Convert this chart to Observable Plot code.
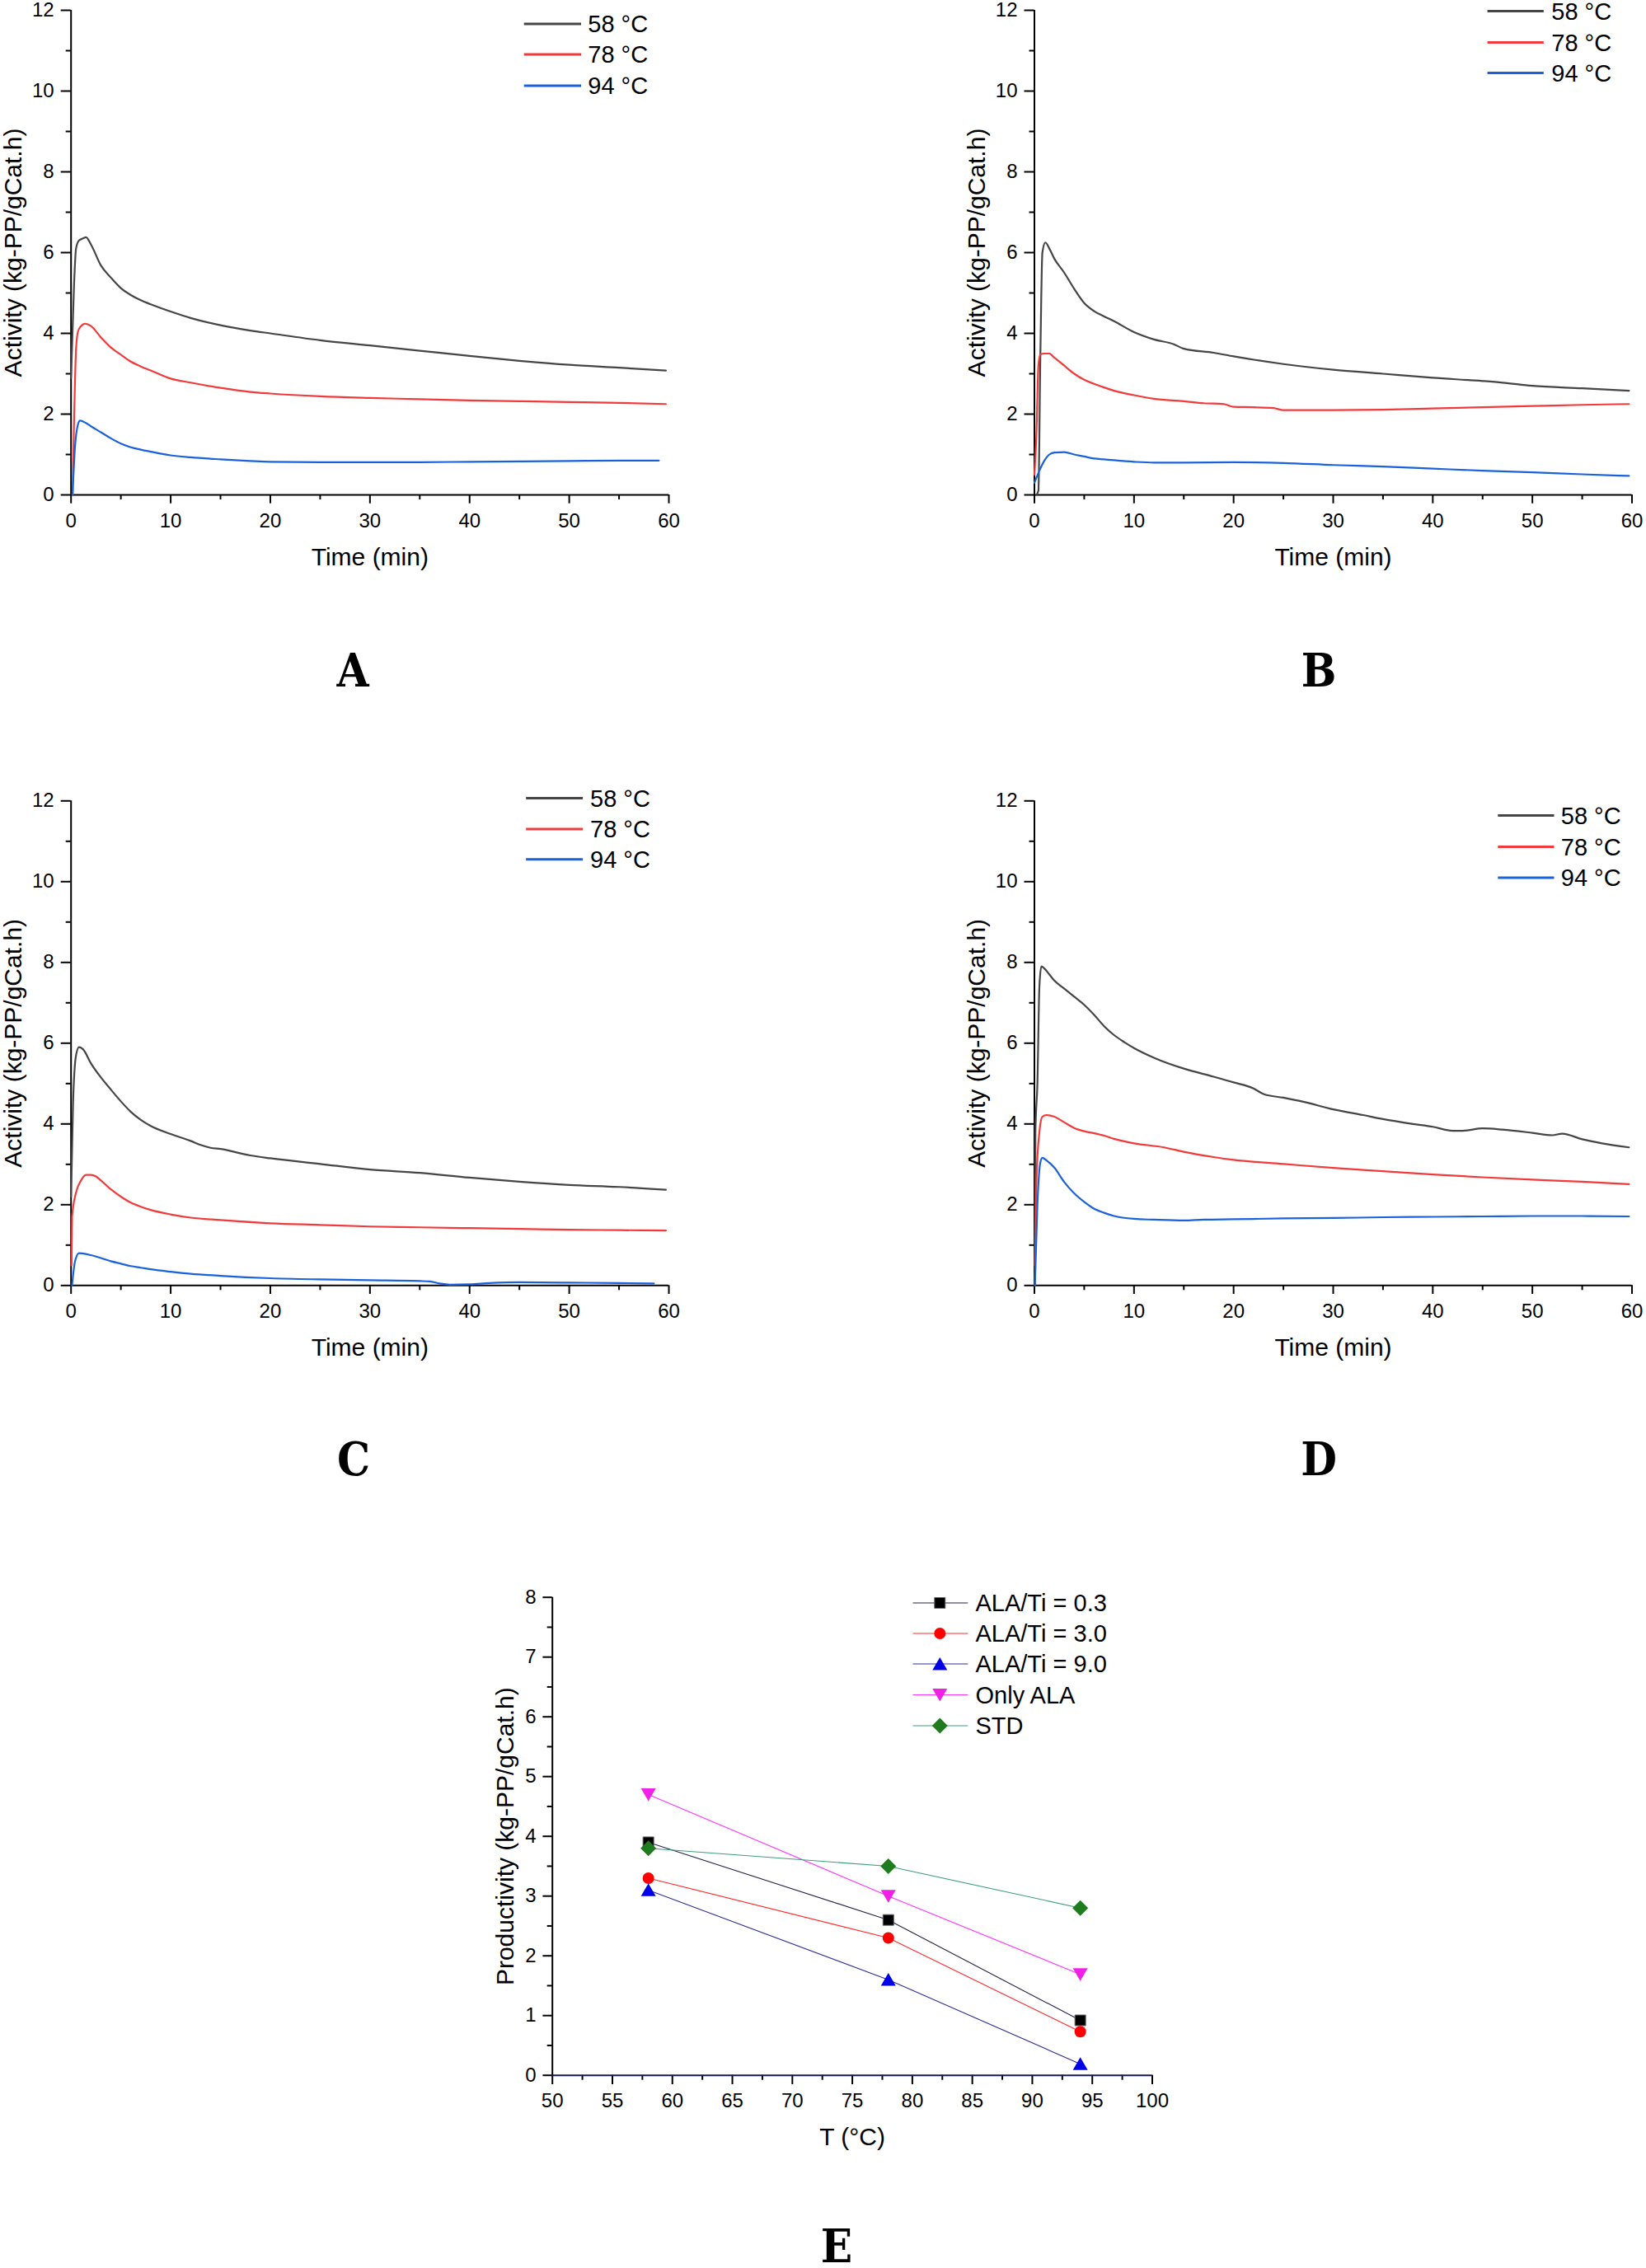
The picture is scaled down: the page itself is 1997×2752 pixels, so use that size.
<!DOCTYPE html>
<html>
<head>
<meta charset="utf-8">
<script src="https://cdn.jsdelivr.net/npm/d3@7"></script>
<script src="https://cdn.jsdelivr.net/npm/@observablehq/plot@0.6"></script>
<style>
html, body { margin: 0; padding: 0; background: #fff; }
#page { position: relative; width: 1997px; height: 2752px; overflow: hidden; background: #fff; }
.panel { position: absolute; }
#overlay { position: absolute; left: 0; top: 0; pointer-events: none; }
</style>
</head>
<body>
<div id="page"></div>
<script>
// ---------------- DATA ----------------
const tempLabels = ["58 °C", "78 °C", "94 °C"];

// Panel A  [time (min), activity]
const a58 = [[0,2.9],[0.3,5.2],[0.5,6.1],[0.8,6.3],[1.2,6.35],[1.5,6.38],[2,6.2],[3,5.68],[4,5.38],[5,5.12],[6,4.95],[7,4.82],[8,4.72],[10,4.54],[12,4.38],[15,4.2],[18,4.07],[20,4.0],[25,3.83],[30,3.7],[35,3.57],[40,3.44],[45,3.32],[50,3.22],[55,3.15],[59.7,3.08]];
const a78 = [[0.15,0],[0.3,1.8],[0.5,3.6],[0.7,4.05],[1,4.18],[1.4,4.24],[2,4.18],[3,3.9],[4,3.65],[5,3.47],[6,3.3],[7,3.18],[8,3.08],[10,2.88],[12,2.78],[15,2.65],[18,2.55],[20,2.51],[25,2.44],[30,2.4],[35,2.37],[40,2.34],[45,2.32],[50,2.3],[55,2.28],[59.7,2.25]];
const a94 = [[0.15,0],[0.4,1.2],[0.7,1.75],[0.9,1.84],[1.5,1.78],[2,1.7],[3,1.55],[4,1.4],[5,1.27],[6,1.18],[7,1.12],[8,1.07],[10,0.98],[12,0.93],[15,0.88],[18,0.84],[20,0.82],[25,0.81],[30,0.81],[35,0.81],[40,0.82],[45,0.83],[50,0.84],[55,0.85],[59,0.85]];

// Panel B
const b58 = [[0.2,0],[0.4,0.1],[0.6,3.5],[0.8,6.0],[1.1,6.25],[1.5,6.1],[2,5.85],[3,5.5],[4,5.1],[5,4.75],[6,4.55],[7,4.42],[8,4.3],[10,4.03],[12,3.85],[14,3.73],[15,3.62],[18,3.52],[20,3.43],[25,3.24],[30,3.1],[35,3.0],[40,2.9],[45,2.82],[47,2.78],[50,2.7],[55,2.64],[59.7,2.58]];
const b78 = [[0,0.5],[0.2,1.5],[0.4,3.2],[0.6,3.48],[1,3.5],[1.5,3.5],[2,3.4],[3,3.2],[4,3.0],[5,2.85],[6,2.75],[7,2.66],[8,2.58],[10,2.47],[12,2.38],[15,2.32],[17,2.27],[19,2.25],[20,2.18],[22,2.17],[24,2.15],[25,2.1],[30,2.1],[35,2.11],[40,2.14],[45,2.17],[50,2.2],[55,2.23],[59.7,2.25]];
const b94 = [[0,0.3],[0.5,0.6],[1,0.85],[1.5,1.0],[2,1.05],[3,1.06],[4,1.0],[5,0.95],[6,0.9],[7,0.88],[10,0.82],[12,0.8],[15,0.8],[20,0.81],[25,0.79],[30,0.74],[35,0.7],[40,0.65],[45,0.6],[50,0.56],[55,0.51],[59.7,0.47]];

// Panel C
const c58 = [[0,2.2],[0.2,4.5],[0.5,5.7],[0.8,5.9],[1.2,5.85],[2,5.5],[3,5.15],[4,4.85],[5,4.56],[6,4.3],[7,4.1],[8,3.95],[10,3.75],[12,3.58],[13,3.48],[14,3.41],[15,3.38],[18,3.22],[20,3.15],[25,3.01],[30,2.87],[35,2.79],[40,2.67],[45,2.57],[50,2.49],[55,2.44],[59.7,2.37]];
const c78 = [[0.05,0.5],[0.1,1.7],[0.5,2.3],[1,2.6],[1.5,2.74],[2,2.74],[2.5,2.7],[3,2.6],[4,2.38],[5,2.2],[6,2.05],[7,1.95],[8,1.87],[10,1.76],[12,1.68],[15,1.62],[20,1.54],[25,1.5],[30,1.46],[35,1.44],[40,1.42],[45,1.4],[50,1.38],[55,1.37],[59.7,1.36]];
const c94 = [[0.1,0],[0.4,0.6],[0.8,0.8],[1.5,0.78],[2,0.75],[3,0.68],[4,0.6],[5,0.54],[6,0.48],[7,0.44],[8,0.4],[10,0.34],[12,0.29],[15,0.24],[20,0.18],[25,0.15],[30,0.13],[35,0.11],[36,0.1],[37,0.05],[38,0.02],[40,0.03],[42,0.06],[45,0.08],[50,0.07],[55,0.06],[58.5,0.05]];

// Panel D
const d58 = [[0.05,0],[0.1,3.8],[0.3,5.0],[0.5,7.4],[0.7,7.9],[1,7.85],[1.5,7.7],[2,7.55],[3,7.35],[4,7.15],[5,6.95],[6,6.7],[7,6.42],[8,6.2],[9,6.03],[10,5.88],[12,5.64],[15,5.37],[18,5.17],[20,5.03],[22,4.88],[23,4.74],[25,4.65],[27,4.55],[30,4.36],[33,4.22],[35,4.12],[38,4.0],[40,3.93],[42,3.83],[43,3.83],[45,3.89],[47,3.86],[50,3.78],[52,3.72],[53,3.76],[55,3.62],[57,3.52],[59.7,3.42]];
const d78 = [[0.05,0.5],[0.2,2.6],[0.5,3.8],[0.8,4.18],[1.2,4.22],[2,4.18],[3,4.04],[4,3.9],[5,3.82],[6,3.77],[7,3.71],[8,3.63],[10,3.52],[13,3.42],[15,3.31],[18,3.18],[20,3.11],[25,3.01],[30,2.91],[35,2.83],[40,2.75],[45,2.68],[50,2.62],[55,2.57],[59.7,2.51]];
const d94 = [[0.05,0],[0.3,2.0],[0.6,3.05],[0.8,3.16],[1.2,3.1],[2,2.92],[3,2.56],[4,2.28],[5,2.07],[6,1.9],[7,1.8],[8,1.72],[10,1.65],[12,1.63],[15,1.61],[17,1.63],[20,1.64],[25,1.66],[30,1.67],[35,1.69],[40,1.7],[45,1.71],[50,1.72],[55,1.72],[59.7,1.71]];

// Panel E  productivity vs T
const prodTemps = [58, 78, 94];
const prodLabels = ["ALA/Ti = 0.3", "ALA/Ti = 3.0", "ALA/Ti = 9.0", "Only ALA", "STD"];
const prodAla03 = [3.9, 2.6, 0.92];
const prodAla30 = [3.3, 2.3, 0.73];
const prodAla90 = [3.1, 1.6, 0.19];
const prodOnlyAla = [4.7, 3.0, 1.69];
const prodStd = [3.8, 3.5, 2.8];

// Ticks
const timeMajor = [0, 10, 20, 30, 40, 50, 60];
const timeMinor = [5, 15, 25, 35, 45, 55];
const actMajor = [0, 2, 4, 6, 8, 10, 12];
const actMinor = [1, 3, 5, 7, 9, 11];
const tMajor = [50, 55, 60, 65, 70, 75, 80, 85, 90, 95, 100];
const tMinor = [52.5, 57.5, 62.5, 67.5, 72.5, 77.5, 82.5, 87.5, 92.5, 97.5];
const prodMajor = [0, 1, 2, 3, 4, 5, 6, 7, 8];
const prodMinor = [0.5, 1.5, 2.5, 3.5, 4.5, 5.5, 6.5, 7.5];

const panelLetters = ["A", "B", "C", "D", "E"];

// ---------------- STYLE / LAYOUT ----------------
const FONT = '"Liberation Sans", Arial, Helvetica, sans-serif';
const SERIF = '"DejaVu Serif Condensed", "DejaVu Serif", "Liberation Serif", serif';
const tempColors = ["#454545", "#f23a3a", "#1a62dc"];
const intFmt = d => String(d);

const page = document.getElementById("page");

function place(svg, left, top) {
  const div = document.createElement("div");
  div.className = "panel";
  div.style.left = left + "px";
  div.style.top = top + "px";
  div.appendChild(svg);
  page.appendChild(div);
}

function activityPanel(series, box) {
  const svg = Plot.plot({
    width: box.w, height: box.h,
    marginLeft: box.x0 - box.left,
    marginRight: box.left + box.w - box.x1,
    marginTop: box.yTop - box.top,
    marginBottom: box.top + box.h - box.yBottom,
    x: {domain: [0, 60]},
    y: {domain: [0, 12]},
    style: {background: "transparent", color: "black", fontFamily: FONT, overflow: "visible"},
    marks: [
      Plot.axisX(timeMajor, {tickSize: 10.7, tickPadding: 11.6, fontSize: 24, strokeWidth: 2, label: null, tickFormat: intFmt}),
      Plot.axisX(timeMinor, {tickSize: 6, strokeWidth: 2, fill: "none", label: null}),
      Plot.axisY(actMajor, {tickSize: 12, tickPadding: 8.5, fontSize: 24, strokeWidth: 2, label: null, tickFormat: intFmt}),
      Plot.axisY(actMinor, {tickSize: 6, strokeWidth: 2, fill: "none", label: null}),
      Plot.ruleY([0], {stroke: "black", strokeWidth: 2}),
      Plot.ruleX([0], {stroke: "black", strokeWidth: 2}),
      ...series.map((s, i) => Plot.line(s, {x: d => d[0], y: d => d[1], stroke: tempColors[i], strokeWidth: 2.2, curve: "monotone-x", strokeLinejoin: "round"})),
      Plot.text(["Time (min)"], {text: d => d, frameAnchor: "bottom", textAnchor: "middle", lineAnchor: "middle", dy: 76, fontSize: 30, fill: "black"}),
      Plot.text(["Activity (kg-PP/gCat.h)"], {text: d => d, frameAnchor: "left", textAnchor: "middle", lineAnchor: "middle", dx: -70, rotate: -90, fontSize: 30, fill: "black"})
    ]
  });
  place(svg, box.left, box.top);
}

activityPanel([a58, a78, a94], {left: 0, top: 0, w: 1000, h: 720, x0: 85.7, x1: 811, yTop: 12, yBottom: 600});
activityPanel([b58, b78, b94], {left: 1000, top: 0, w: 997, h: 720, x0: 1254.5, x1: 1979.5, yTop: 12, yBottom: 600});
activityPanel([c58, c78, c94], {left: 0, top: 940, w: 1000, h: 720, x0: 85.7, x1: 811, yTop: 971.3, yBottom: 1559.3});
activityPanel([d58, d78, d94], {left: 1000, top: 940, w: 997, h: 720, x0: 1254.5, x1: 1979.5, yTop: 971.3, yBottom: 1559.3});

// symbols
function rOf(size) { return Math.sqrt(size / Math.PI); }
const symbols = {
  square: {draw(c, size) { const r = rOf(size); c.rect(-r, -r, 2 * r, 2 * r); }},
  circle: {draw(c, size) { const r = rOf(size); c.moveTo(r, 0); c.arc(0, 0, r, 0, 2 * Math.PI); c.closePath(); }},
  triUp: {draw(c, size) { const r = rOf(size); c.moveTo(0, -0.9 * r); c.lineTo(r, 0.82 * r); c.lineTo(-r, 0.82 * r); c.closePath(); }},
  triDown: {draw(c, size) { const r = rOf(size); c.moveTo(0, 0.9 * r); c.lineTo(r, -0.82 * r); c.lineTo(-r, -0.82 * r); c.closePath(); }},
  diamond: {draw(c, size) { const r = rOf(size); c.moveTo(0, -r); c.lineTo(r, 0); c.lineTo(0, r); c.lineTo(-r, 0); c.closePath(); }}
};
const prodSeries = [prodAla03, prodAla30, prodAla90, prodOnlyAla, prodStd];
const prodLineColors = ["#23234a", "#ff2a2a", "#30309a", "#ff33ff", "#3f9f7a"];
const prodFillColors = ["#000000", "#ff0000", "#0000e6", "#f020e6", "#1e7b1e"];
const prodSymbols = [symbols.square, symbols.circle, symbols.triUp, symbols.triDown, symbols.diamond];
const prodR = [6.5, 7, 9, 9, 9.5];

(function productivityPanel() {
  const box = {left: 0, top: 1880, w: 1997, h: 760, x0: 669.7, x1: 1397.5, yTop: 1937.7, yBottom: 2517.7};
  const marks = [
    Plot.axisX(tMajor, {tickSize: 11.3, tickPadding: 10.7, fontSize: 24, strokeWidth: 2, label: null, tickFormat: intFmt}),
    Plot.axisX(tMinor, {tickSize: 6, strokeWidth: 2, fill: "none", label: null}),
    Plot.axisY(prodMajor, {tickSize: 11.3, tickPadding: 8.4, fontSize: 24, strokeWidth: 2, label: null, tickFormat: intFmt}),
    Plot.axisY(prodMinor, {tickSize: 6, strokeWidth: 2, fill: "none", label: null}),
    Plot.ruleY([0], {stroke: "#181850", strokeWidth: 2}),
    Plot.ruleX([50], {stroke: "black", strokeWidth: 2})
  ];
  prodSeries.forEach((vals, i) => {
    const pts = prodTemps.map((t, j) => ({t, v: vals[j]}));
    marks.push(Plot.line(pts, {x: "t", y: "v", stroke: prodLineColors[i], strokeWidth: 1.1}));
  });
  prodSeries.forEach((vals, i) => {
    const pts = prodTemps.map((t, j) => ({t, v: vals[j]}));
    marks.push(Plot.dot(pts, {x: "t", y: "v", symbol: prodSymbols[i], r: prodR[i], fill: prodFillColors[i], stroke: i === 0 ? "#666" : "none", strokeWidth: 1}));
  });
  marks.push(Plot.text(["T (°C)"], {text: d => d, frameAnchor: "bottom", textAnchor: "middle", lineAnchor: "middle", dy: 74.7, fontSize: 30, fill: "black"}));
  marks.push(Plot.text(["Productivity (kg-PP/gCat.h)"], {text: d => d, frameAnchor: "left", textAnchor: "middle", lineAnchor: "middle", dx: -57, rotate: -90, fontSize: 30, fill: "black"}));
  const svg = Plot.plot({
    width: box.w, height: box.h,
    marginLeft: box.x0 - box.left,
    marginRight: box.left + box.w - box.x1,
    marginTop: box.yTop - box.top,
    marginBottom: box.top + box.h - box.yBottom,
    x: {domain: [50, 100]},
    y: {domain: [0, 8]},
    style: {background: "transparent", color: "black", fontFamily: FONT, overflow: "visible"},
    marks
  });
  place(svg, box.left, box.top);
})();

// ---------------- OVERLAY: legends and panel letters ----------------
const overlay = d3.select("#page").append("svg")
  .attr("id", "overlay").attr("width", 1997).attr("height", 2752)
  .attr("font-family", FONT);

function tempLegend(lx1, lx2, tx, rows) {
  const g = overlay.append("g");
  rows.forEach((y, i) => {
    g.append("line").attr("x1", lx1).attr("x2", lx2).attr("y1", y).attr("y2", y)
      .attr("stroke", tempColors[i]).attr("stroke-width", 3);
    g.append("text").attr("x", tx).attr("y", y + 10.4).attr("font-size", 29).attr("fill", "black").text(tempLabels[i]);
  });
}
tempLegend(635.7, 705, 713.3, [29, 66, 104]);
tempLegend(1804.6, 1872.8, 1882.3, [13.5, 51.6, 88.6]);
tempLegend(638.2, 707.1, 716, [968.5, 1005.9, 1042.8]);
tempLegend(1817.3, 1885.5, 1893.8, [989.4, 1027.4, 1064.9]);

(function prodLegend() {
  const rows = [1945, 1982, 2019, 2056.5, 2094];
  const g = overlay.append("g");
  rows.forEach((y, i) => {
    g.append("line").attr("x1", 1107.5).attr("x2", 1174.3).attr("y1", y).attr("y2", y)
      .attr("stroke", prodLineColors[i]).attr("stroke-width", 1.1);
    const p = d3.path();
    prodSymbols[i].draw(p, Math.PI * prodR[i] * prodR[i]);
    g.append("path").attr("d", p.toString()).attr("transform", `translate(1140.3,${y})`)
      .attr("fill", prodFillColors[i]).attr("stroke", i === 0 ? "#666" : "none");
    g.append("text").attr("x", 1183.5).attr("y", y + 10.4).attr("font-size", 29).attr("fill", "black").text(prodLabels[i]);
  });
})();

const letterPos = [[428, 833], [1600, 833], [429, 1790], [1600, 1790], [1015, 2745]];
panelLetters.forEach((L, i) => {
  overlay.append("text").attr("x", letterPos[i][0]).attr("y", letterPos[i][1])
    .attr("text-anchor", "middle").attr("font-family", SERIF).attr("font-weight", "bold")
    .attr("font-size", 56).attr("fill", "black").text(L);
});
</script>
</body>
</html>
